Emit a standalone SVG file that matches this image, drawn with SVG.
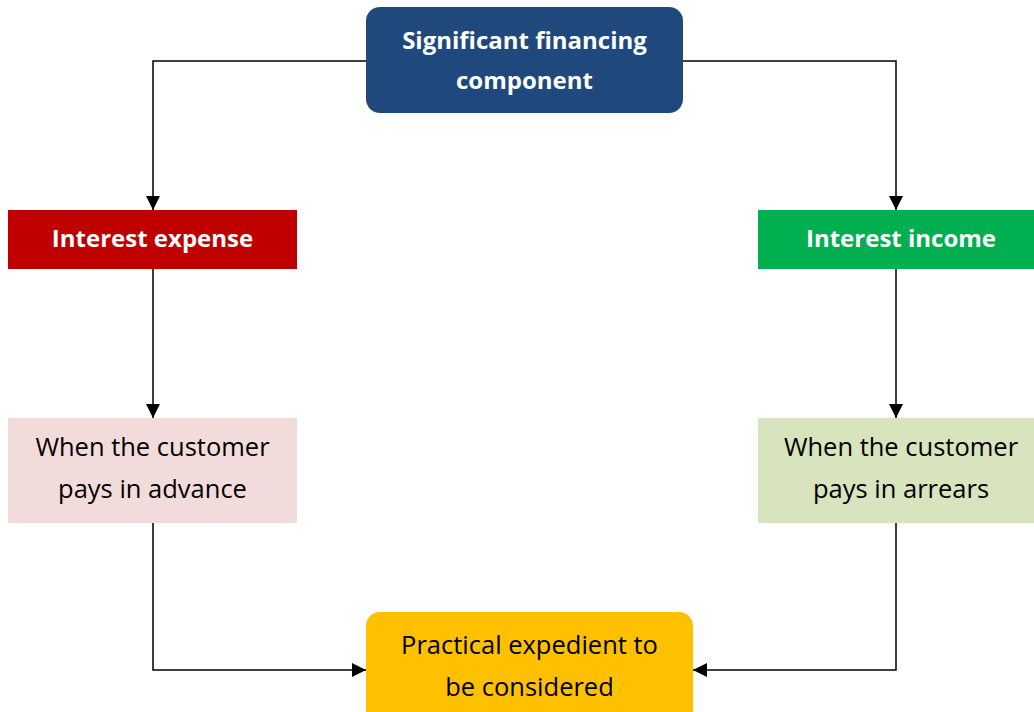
<svg xmlns="http://www.w3.org/2000/svg" width="1034" height="712" viewBox="0 0 1034 712">
<defs>
<marker id="ah" markerWidth="14" markerHeight="14" viewBox="0 0 14 14" refX="14" refY="7" orient="auto" markerUnits="userSpaceOnUse">
<path d="M0,0 L14,7 L0,14 Z" fill="#000"/>
</marker>
<style>
.t{font-family:"Open Sans","Liberation Sans",sans-serif;font-size:25.5px;text-anchor:middle}
.b{font-weight:bold;fill:#fff;font-size:24px}
.d{fill:#000}
.c{fill:none;stroke:#000;stroke-width:1.5}
</style>
</defs>
<rect width="1034" height="712" fill="#fff"/>
<g id="connectors">
<path class="c" d="M366,61 H153 V210" marker-end="url(#ah)"/>
<path class="c" d="M683,61 H896 V210" marker-end="url(#ah)"/>
<path class="c" d="M153,269 V418" marker-end="url(#ah)"/>
<path class="c" d="M896,269 V418" marker-end="url(#ah)"/>
<path class="c" d="M153,523 V670 H366" marker-end="url(#ah)"/>
<path class="c" d="M896,523 V670 H693" marker-end="url(#ah)"/>
</g>
<g id="top">
<rect x="366" y="7" width="317" height="106" rx="14" fill="#1F497D"/>
<text class="t b" x="524.5" y="49">Significant financing</text>
<text class="t b" x="524.5" y="89">component</text>
</g>
<g id="expense">
<rect x="8" y="210" width="289" height="59" fill="#C00000"/>
<text class="t b" x="152.5" y="247">Interest expense</text>
</g>
<g id="income">
<rect x="758" y="210" width="276" height="59" fill="#00B050"/>
<text class="t b" x="901" y="247">Interest income</text>
</g>
<g id="advance">
<rect x="8" y="418" width="289" height="105" fill="#F2DCDB"/>
<text class="t d" x="152.5" y="456">When the customer</text>
<text class="t d" x="152.5" y="498">pays in advance</text>
</g>
<g id="arrears">
<rect x="758" y="418" width="276" height="105" fill="#D7E4BD"/>
<text class="t d" x="901" y="456">When the customer</text>
<text class="t d" x="901" y="498">pays in arrears</text>
</g>
<g id="practical">
<rect x="366" y="612" width="327" height="120" rx="14" fill="#FFC000"/>
<text class="t d" x="529.5" y="654">Practical expedient to</text>
<text class="t d" x="529.5" y="696">be considered</text>
</g>
</svg>
